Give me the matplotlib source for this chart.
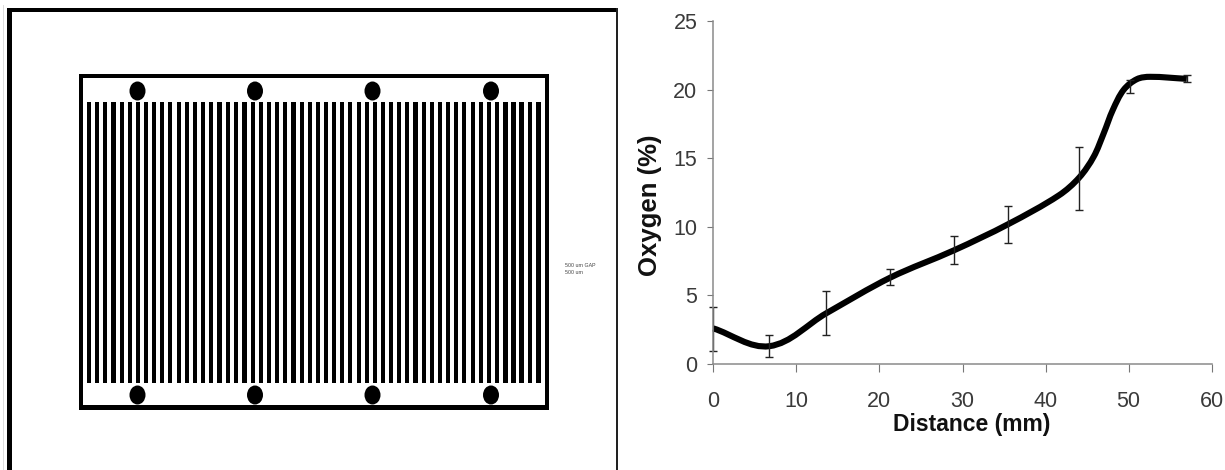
import matplotlib
matplotlib.use('Agg')
import matplotlib.pyplot as plt
from matplotlib.patches import Rectangle, Ellipse, PathPatch
from matplotlib.path import Path
import numpy as np

plt.rcParams['font.family'] = ['Liberation Sans', 'DejaVu Sans']

# Oxygen profile
curveX = [0, 6.75, 13.6, 21.3, 29, 35.5, 41.6, 44.05, 45.8, 47.0, 48.1, 49.4, 51.0, 52.6, 57]
curveY = [2.6, 1.3, 3.7, 6.3, 8.3, 10.2, 12.3, 13.6, 15.13, 16.83, 18.54, 20.0, 20.78, 20.95, 20.8]
errX = [0, 6.75, 13.6, 21.3, 29, 35.5, 44.05, 50.2, 57]
errLow = [0.97, 0.53, 2.12, 5.77, 7.3, 8.8, 11.27, 19.8, 20.55]
errHigh = [4.15, 2.14, 5.33, 6.9, 9.37, 11.5, 15.84, 20.7, 21.05]
xTicks = [0, 10, 20, 30, 40, 50, 60]
yTicks = [0, 5, 10, 15, 20, 25]

# Electrode mask drawing, in image pixels
barCentres = [88.7, 97, 105.3, 113.5, 121.8, 130, 138, 146.3, 154.3, 162, 170.3, 178.7,
	187, 195.2, 203.2, 211.3, 219.5, 228, 236, 244.5, 252.7, 260.8, 268.8, 277, 285.3,
	293.5, 301.6, 309.8, 317.9, 326, 334.2, 342.3, 350.4, 358.6, 366.7, 374.8, 383,
	391.1, 399.2, 407.4, 415.5, 423.6, 431.8, 439.9, 448, 456.2, 464.3, 472.6, 481,
	489, 497, 505.5, 513.5, 521.5, 530, 538.5]
dotX = [137.5, 255, 372.5, 491]
dotY = [91, 395]

W, H = 1225, 470

# Smoothed line through the points, tangents scaled to each segment length
def smoothPath(ax, x, y) :
	pts = ax.transData.transform(np.column_stack([x, y]))
	n = len(pts)
	tangents = []
	for i in range(n):
		d = pts[min(i + 1, n - 1)] - pts[max(i - 1, 0)]
		tangents.append(d / np.hypot(*d))
	verts = [pts[0]]
	codes = [Path.MOVETO]
	for i in range(n - 1):
		seg = np.hypot(*(pts[i + 1] - pts[i])) / 3
		verts += [pts[i] + tangents[i] * seg, pts[i + 1] - tangents[i + 1] * seg, pts[i + 1]]
		codes += [Path.CURVE4] * 3
	return Path(verts, codes)

fig = plt.figure(figsize=[W / 100, H / 100], dpi=100)

# -------------------- Left panel --------------------
left = fig.add_axes([0, 0, 1, 1])
left.set_xlim(0, W)
left.set_ylim(H, 0)
left.axis('off')

def box(x0, y0, x1, y1, color='black') :
	left.add_patch(Rectangle((x0, y0), x1 - x0, y1 - y0, fc=color, ec='none'))

# outer frame
box(3, 5, 4, 470, '#dddddd')
box(7, 8, 12, 470)
box(7, 8, 617, 12)
box(616, 8, 617.5, 470, '#222222')
# inner frame
box(79, 74, 548.5, 78)
box(79, 405, 548.5, 409.5)
box(79, 74, 83, 409.5)
box(544.5, 74, 548.5, 409.5)

left.bar(barCentres, 281, bottom=102, width=4.2, color='black')
for x in dotX:
	for y in dotY:
		left.add_patch(Ellipse((x, y), 16, 19, fc='black', ec='none'))

left.text(565, 265.5, '500 um GAP', fontsize=3.8, color='#444444', va='center')
left.text(565, 272.5, '500 um', fontsize=3.8, color='#444444', va='center')

# -------------------- Right panel --------------------
ax = fig.add_axes([713.3 / W, (H - 364) / H, 498.4 / W, 342.7 / H])
ax.patch.set_alpha(0)
ax.set_xlim(0, 60)
ax.set_ylim(0, 25)
for side in ['top', 'right']:
	ax.spines[side].set_visible(False)
for side in ['left', 'bottom']:
	ax.spines[side].set_color('#8a8a8a')
	ax.spines[side].set_linewidth(1.1)
ax.set_xticks(xTicks)
ax.set_yticks(yTicks)
ax.tick_params(axis='x', length=5.5, width=0.8, color='#777777', labelsize=15.5, labelcolor='#3a3a3a', pad=14)
ax.tick_params(axis='y', length=4.5, width=0.8, color='#777777', labelsize=15.5, labelcolor='#3a3a3a', pad=7)

low = np.array(errLow)
high = np.array(errHigh)
mid = (low + high) / 2
ax.errorbar(errX, mid, yerr=(high - low) / 2, fmt='none', ecolor='#222222', elinewidth=1, capsize=2.8, capthick=1, clip_on=False)
ax.add_patch(PathPatch(smoothPath(ax, curveX, curveY), fc='none', ec='black', lw=4.4, capstyle='butt', clip_on=False, transform=None))

fig.text(972 / W, 1 - 425 / H, 'Distance (mm)', fontsize=16.5, fontweight='bold', color='#111111', ha='center', va='center')
fig.text(650 / W, 1 - 205 / H, 'Oxygen (%)', fontsize=18.5, fontweight='bold', color='#111111', rotation=90, ha='center', va='center')

plt.savefig('out.png', dpi=100)
